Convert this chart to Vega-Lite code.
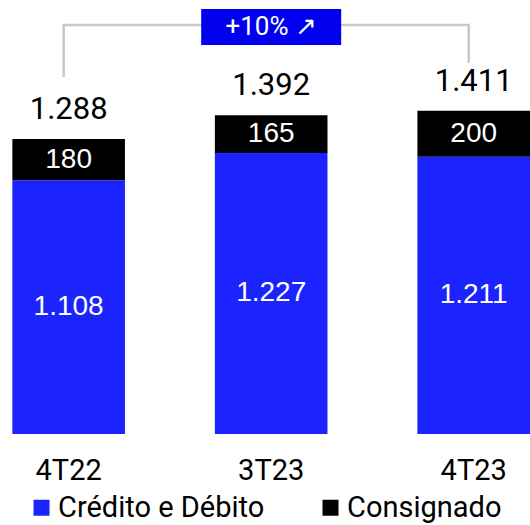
{
  "$schema": "https://vega.github.io/schema/vega-lite/v6.json",
  "width": 530,
  "height": 434,
  "padding": {"left": 0, "top": 0, "right": 0, "bottom": 91},
  "autosize": "none",
  "config": {
    "view": {"stroke": null},
    "font": "Roboto"
  },
  "datasets": {
    "bars": [
      {"period": "4T22", "segment": "Crédito e Débito", "value": 1108},
      {"period": "4T22", "segment": "Consignado", "value": 180},
      {"period": "3T23", "segment": "Crédito e Débito", "value": 1227},
      {"period": "3T23", "segment": "Consignado", "value": 165},
      {"period": "4T23", "segment": "Crédito e Débito", "value": 1211},
      {"period": "4T23", "segment": "Consignado", "value": 200}
    ],
    "bracket": [
      {"step": 1, "period": "4T22", "level": 1559},
      {"step": 2, "period": "4T22", "level": 1786},
      {"step": 3, "period": "4T23", "level": 1786},
      {"step": 4, "period": "4T23", "level": 1620}
    ],
    "badge": [
      {"mid": "3T23", "label": "+10% ↗", "textY": 1777, "boxTop": 1856, "boxBottom": 1699}
    ]
  },
  "layer": [
    {
      "data": {"name": "bars"},
      "transform": [
        {"stack": "value", "groupby": ["period"], "sort": [{"field": "segment", "order": "descending"}], "as": ["v0", "v1"]}
      ],
      "mark": {"type": "bar"},
      "encoding": {
        "x": {
          "field": "period", "type": "nominal",
          "scale": {"domain": ["4T22", "3T23", "4T23"], "paddingInner": 0.444, "paddingOuter": 0.0305, "align": 1},
          "axis": {"title": null, "ticks": false, "domain": false, "labelAngle": 0, "labelFontSize": 29, "labelFont": "Roboto", "labelColor": "#000000", "labelPadding": 22}
        },
        "y": {"field": "v0", "type": "quantitative", "scale": {"domain": [0, 1895], "nice": false}, "axis": null},
        "y2": {"field": "v1"},
        "color": {
          "field": "segment", "type": "nominal",
          "scale": {"domain": ["Crédito e Débito", "Consignado"], "range": ["#1b23ff", "#000000"]},
          "legend": {"orient": "none", "legendX": 27, "legendY": 493, "direction": "horizontal", "title": null, "symbolType": "square", "symbolSize": 256, "symbolStrokeWidth": 0, "labelFontSize": 29, "labelFont": "Roboto", "labelColor": "#000000", "labelLimit": 0, "columnPadding": 51, "labelOffset": 2}
        }
      }
    },
    {
      "data": {"name": "bracket"},
      "mark": {"type": "line", "color": "#c8c8c8", "strokeWidth": 2.5, "xOffset": -5},
      "encoding": {
        "x": {"field": "period", "type": "nominal"},
        "y": {"field": "level", "type": "quantitative"},
        "order": {"field": "step", "type": "quantitative"}
      }
    },
    {
      "data": {"name": "badge"},
      "mark": {"type": "bar", "color": "#0000ee", "width": 140},
      "encoding": {
        "x": {"field": "mid", "type": "nominal"},
        "y": {"field": "boxTop", "type": "quantitative"},
        "y2": {"field": "boxBottom"}
      }
    },
    {
      "data": {"name": "badge"},
      "mark": {"type": "text", "color": "#ffffff", "fontSize": 26, "font": "Roboto", "baseline": "middle"},
      "encoding": {
        "x": {"field": "mid", "type": "nominal"},
        "y": {"field": "textY", "type": "quantitative"},
        "text": {"field": "label", "type": "nominal"}
      }
    },
    {
      "data": {"name": "bars"},
      "transform": [
        {"stack": "value", "groupby": ["period"], "sort": [{"field": "segment", "order": "descending"}], "as": ["v0", "v1"]},
        {"calculate": "(datum.v0 + datum.v1) / 2", "as": "mid"},
        {"calculate": "replace(format(datum.value, ',.0f'), ',', '.')", "as": "txt"}
      ],
      "mark": {"type": "text", "color": "#ffffff", "fontSize": 28, "font": "Liberation Sans", "baseline": "middle"},
      "encoding": {
        "x": {"field": "period", "type": "nominal"},
        "y": {"field": "mid", "type": "quantitative"},
        "text": {"field": "txt", "type": "nominal"}
      }
    },
    {
      "data": {"name": "bars"},
      "transform": [
        {"aggregate": [{"op": "sum", "field": "value", "as": "total"}], "groupby": ["period"]},
        {"calculate": "replace(format(datum.total, ',.0f'), ',', '.')", "as": "txt"}
      ],
      "mark": {"type": "text", "color": "#000000", "fontSize": 31, "font": "Roboto", "baseline": "middle", "dy": -29},
      "encoding": {
        "x": {"field": "period", "type": "nominal"},
        "y": {"field": "total", "type": "quantitative"},
        "text": {"field": "txt", "type": "nominal"}
      }
    }
  ]
}
